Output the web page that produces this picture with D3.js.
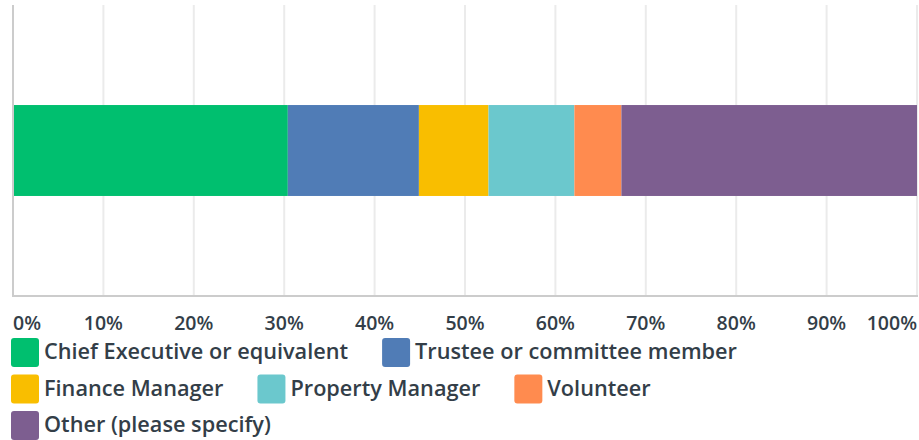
<!DOCTYPE html>
<html>
<head>
<meta charset="utf-8">
<script src="https://cdnjs.cloudflare.com/ajax/libs/d3/7.8.5/d3.min.js"></script>
<style>
  body { margin: 0; background: #fff; }
  text { font-family: "Open Sans", Lato, sans-serif; fill: #333e48; }
</style>
</head>
<body>
<div id="chart"></div>
<script>
// data (percent of respondents)
var categories = ["Chief Executive or equivalent", "Trustee or committee member",
    "Finance Manager", "Property Manager", "Volunteer", "Other (please specify)"];
var values = [30.4, 14.5, 7.7, 9.5, 5.2, 32.7];
var colors = ["#00bf6f", "#507cb6", "#f9be00", "#6bc8cd", "#ff8b4f", "#7d5e90"];
var tickValues = [0, 10, 20, 30, 40, 50, 60, 70, 80, 90, 100];

var width = 919;
var height = 440;
var margin = { left: 13, right: 2, top: 5, bottom: 144 };

var svg = d3.select('#chart')
    .append('svg')
    .attr('width', width)
    .attr('height', height);

var x = d3.scaleLinear()
    .domain([0, 100])
    .range([margin.left, width - margin.right]);

var y = d3.scaleBand()
    .domain(["row"])
    .range([margin.top, height - margin.bottom])
    .paddingInner(0)
    .paddingOuter(1.1);

// gridlines
svg.append('g')
    .selectAll('line')
    .data(tickValues.slice(1))
    .enter()
    .append('line')
    .attr('x1', d => x(d))
    .attr('x2', d => x(d))
    .attr('y1', margin.top)
    .attr('y2', height - margin.bottom)
    .attr('stroke', '#ebebeb')
    .attr('stroke-width', 2);

// stacked segments
var stacked = [];
var acc = 0;
for (var i = 0; i < values.length; i++) {
    stacked.push({ name: categories[i], start: acc, end: acc + values[i], color: colors[i] });
    acc += values[i];
}

svg.append('g')
    .selectAll('rect')
    .data(stacked)
    .enter()
    .append('rect')
    .attr('x', d => x(d.start))
    .attr('width', d => x(d.end) - x(d.start))
    .attr('y', y("row"))
    .attr('height', y.bandwidth())
    .attr('fill', d => d.color);

// axis lines
svg.append('line')
    .attr('x1', x(0)).attr('x2', x(0))
    .attr('y1', margin.top).attr('y2', height - margin.bottom)
    .attr('stroke', '#cccccc').attr('stroke-width', 2);
svg.append('line')
    .attr('x1', x(0) - 1).attr('x2', x(100) + 1)
    .attr('y1', height - margin.bottom).attr('y2', height - margin.bottom)
    .attr('stroke', '#cccccc').attr('stroke-width', 2);

// tick labels
svg.append('g')
    .selectAll('text')
    .data(tickValues)
    .enter()
    .append('text')
    .attr('x', d => x(d))
    .attr('y', 329.5)
    .attr('text-anchor', (d, i) => i == 0 ? 'start' : (i == tickValues.length - 1 ? 'end' : 'middle'))
    .style('font-size', '19.5px')
    .style('font-weight', 600)
    .text(d => d + '%');

// legend (flows and wraps like the original)
var legend = svg.append('g');
var lx = 11, ly = 338, rowH = 36.5, gap = 34;
for (i = 0; i < categories.length; i++) {
    var item = legend.append('g');
    item.append('rect')
        .attr('width', 28).attr('height', 29)
        .attr('rx', 3)
        .attr('fill', colors[i]);
    var t = item.append('text')
        .attr('x', 33)
        .attr('y', 21)
        .style('font-size', '21.7px')
        .style('font-weight', 600)
        .text(categories[i]);
    var w = 33 + t.node().getComputedTextLength();
    if (lx > 11 && lx + w > width) {
        lx = 11;
        ly += rowH;
    }
    item.attr('transform', 'translate(' + lx + ',' + ly + ')');
    lx += w + gap;
}
</script>
</body>
</html>
